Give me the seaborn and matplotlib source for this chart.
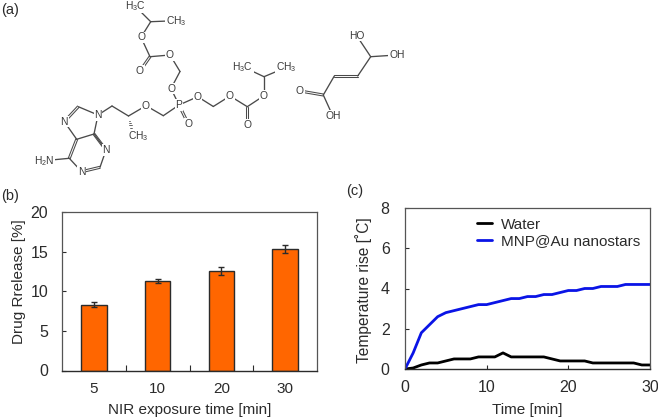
import matplotlib
matplotlib.use("Agg")
import matplotlib.pyplot as plt
import pandas as pd
import seaborn as sns

# ========================
# Data
# ========================
exposure = ['5', '10', '20', '30']
release = [8.3, 11.3, 12.5, 15.3]
release_err = [0.3, 0.3, 0.5, 0.5]

minutes = list(range(31))
water = [0, 0.05, 0.2, 0.3, 0.3, 0.4, 0.5, 0.5, 0.5, 0.6, 0.6, 0.6, 0.8, 0.6, 0.6, 0.6,
         0.6, 0.6, 0.5, 0.4, 0.4, 0.4, 0.4, 0.3, 0.3, 0.3, 0.3, 0.3, 0.3, 0.2, 0.2]
mnp = [0, 0.8, 1.8, 2.2, 2.6, 2.8, 2.9, 3.0, 3.1, 3.2, 3.2, 3.3, 3.4, 3.5, 3.5, 3.6,
       3.6, 3.7, 3.7, 3.8, 3.9, 3.9, 4.0, 4.0, 4.1, 4.1, 4.1, 4.2, 4.2, 4.2, 4.2]

# Molecule atoms, in picture pixels
atoms = {
    'iso1': (135, 6), 'ch1': (150.7, 21.7), 'me1': (176, 20.7), 'o1': (141, 37.3),
    'c1': (150, 56.7), 'o2': (170, 55), 'o3': (140, 71), 'ch2a': (180, 71.5), 'o4': (171, 88.5),
    'p': (179, 105), 'o5': (197.7, 96.7), 'o6': (188.3, 124), 'ch2b': (163.3, 115.7),
    'ch2c': (213.3, 106.5), 'o7': (230, 96), 'c2': (247.3, 106.7), 'o8': (247.3, 125),
    'o9': (264, 95.7), 'ch3': (264, 76.7), 'iso2': (242.7, 66.7), 'me2': (286, 67.5),
    'o10': (146, 105.7), 'ch': (128.5, 116), 'ch2d': (112, 106), 'n9': (98, 115),
    'c8': (78.3, 106.7), 'n7': (64.3, 121.7), 'c5': (76.7, 139.3), 'c4': (94, 134),
    'c6': (69.3, 158.3), 'n1': (81.7, 171.7), 'c2p': (100, 167.3), 'n3': (106, 150),
    'nh2': (44, 160.7), 'me3': (138, 136.5),
    'c3': (370.7, 56.7), 'oh1': (356.7, 35.7), 'oh2': (396.7, 55), 'c4f': (357.7, 76),
    'c5f': (334.3, 76), 'c6f': (323.3, 95), 'o11': (300, 91), 'oh3': (332.7, 115.7),
}
single_bonds = [
    ('iso1', 'ch1'), ('ch1', 'me1'), ('ch1', 'o1'), ('o1', 'c1'), ('c1', 'o2'), ('o2', 'ch2a'),
    ('ch2a', 'o4'), ('o4', 'p'), ('p', 'o5'), ('p', 'ch2b'), ('ch2b', 'o10'), ('o10', 'ch'),
    ('ch', 'ch2d'), ('ch2d', 'n9'), ('n9', 'c8'), ('n7', 'c5'), ('c5', 'c4'), ('c4', 'n9'),
    ('c6', 'nh2'), ('n1', 'c6'), ('c2p', 'n3'), ('n3', 'c4'), ('o5', 'ch2c'), ('ch2c', 'o7'),
    ('o7', 'c2'), ('c2', 'o9'), ('o9', 'ch3'), ('ch3', 'iso2'), ('ch3', 'me2'),
    ('c3', 'oh1'), ('c3', 'oh2'), ('c3', 'c4f'), ('c5f', 'c6f'), ('c6f', 'oh3'),
]
double_bonds = [
    ('c1', 'o3'), ('p', 'o6'), ('c2', 'o8'), ('c8', 'n7'), ('c5', 'c6'), ('n1', 'c2p'),
    ('c4', 'n3'), ('c4f', 'c5f'), ('c6f', 'o11'),
]
labels = {
    'iso1': 'H$_3$C', 'me1': 'CH$_3$', 'o1': 'O', 'o2': 'O', 'o3': 'O', 'o4': 'O', 'p': 'P',
    'o5': 'O', 'o6': 'O', 'o7': 'O', 'o8': 'O', 'o9': 'O', 'iso2': 'H$_3$C', 'me2': 'CH$_3$',
    'o10': 'O', 'n9': 'N', 'n7': 'N', 'n1': 'N', 'n3': 'N', 'nh2': 'H$_2$N', 'me3': 'CH$_3$',
    'oh1': 'HO', 'oh2': 'OH', 'o11': 'O', 'oh3': 'OH',
}

# ========================
# Figure setup
# ========================
sns.set_style("ticks")
plt.rcParams['font.family'] = ['Liberation Sans', 'DejaVu Sans']
plt.rcParams['mathtext.default'] = 'regular'
W, H = 658, 417
fig = plt.figure(figsize=(W / 100, H / 100), dpi=100)

DARK = '#2b2b2b'

# ========================
# (a) Molecule
# ========================
ax_mol = fig.add_axes([0, 0, 1, 1])
ax_mol.set_xlim(0, W)
ax_mol.set_ylim(H, 0)
ax_mol.axis('off')

for a, b in single_bonds:
    ax_mol.plot(*zip(atoms[a], atoms[b]), color='#4a4a4a', lw=0.95, zorder=1)

for a, b in double_bonds:
    (x0, y0), (x1, y1) = atoms[a], atoms[b]
    length = ((x1 - x0) ** 2 + (y1 - y0) ** 2) ** 0.5
    nx, ny = -(y1 - y0) / length * 1.0, (x1 - x0) / length * 1.0
    for s in (-1, 1):
        ax_mol.plot([x0 + s * nx, x1 + s * nx], [y0 + s * ny, y1 + s * ny],
                    color='#4a4a4a', lw=0.75, zorder=1)

# hashed wedge on the chiral carbon
(x0, y0), (x1, y1) = atoms['ch'], (131.5, 130)
for i in range(1, 7):
    t = i / 6
    cx, cy = x0 + (x1 - x0) * t, y0 + (y1 - y0) * t
    ax_mol.plot([cx - 1.6 * t, cx + 1.6 * t], [cy, cy], color='#4a4a4a', lw=0.6, zorder=1)

for key, txt in labels.items():
    ax_mol.text(*atoms[key], txt, fontsize=7.4, color='#3a3a3a', ha='center', va='center', zorder=2,
                bbox=dict(facecolor='white', edgecolor='none', pad=0.4))

ax_mol.text(1, 10, '(a)', fontsize=10.5, color=DARK, va='center')
ax_mol.text(1, 196, '(b)', fontsize=10.5, color=DARK, va='center')
ax_mol.text(346, 191, '(c)', fontsize=10.5, color=DARK, va='center')

# ========================
# (b) Drug release bars
# ========================
ax_b = fig.add_axes([62 / W, 1 - 370.5 / H, 255 / W, 158.5 / H])
df = pd.DataFrame({'time': exposure, 'release': release})
sns.barplot(data=df, x='time', y='release', color='#ff6600', saturation=1, width=0.4,
            edgecolor=DARK, linewidth=1.0, ax=ax_b)
ax_b.errorbar(range(len(exposure)), release, yerr=release_err, fmt='none', ecolor=DARK,
              elinewidth=1.0, capsize=2.2, capthick=1.0)
ax_b.set_xlim(-0.5, 3.5)
ax_b.set_ylim(0, 20)
ax_b.set_yticks([0, 5, 10, 15, 20])
ax_b.set_xticks([0.5, 1.5, 2.5], minor=True)
ax_b.tick_params(axis='x', which='major', length=0, labelsize=11, pad=8, colors=DARK)
ax_b.tick_params(axis='x', which='minor', direction='in', length=4, width=0.8, color=DARK)
ax_b.tick_params(axis='y', direction='in', length=3, width=0.8, labelsize=11.5, pad=10, colors=DARK)
ax_b.set_xlabel('NIR exposure time [min]', fontsize=11, color=DARK, labelpad=5)
ax_b.set_ylabel('Drug Rrelease [%]', fontsize=11, color=DARK)
ax_b.yaxis.set_label_coords(-0.143, 0.558)

# ========================
# (c) Temperature rise
# ========================
ax_c = fig.add_axes([405 / W, 1 - 369 / H, 245 / W, 161 / H])
sns.lineplot(x=minutes, y=water, color='black', lw=2.0, label='Water', ax=ax_c)
sns.lineplot(x=minutes, y=mnp, color='#0a14e6', lw=2.0, label='MNP@Au nanostars', ax=ax_c)
ax_c.set_xlim(0, 30)
ax_c.set_ylim(0, 8)
ax_c.set_xticks([0, 10, 20, 30])
ax_c.set_yticks([0, 2, 4, 6, 8])
ax_c.tick_params(axis='both', direction='in', length=3, width=0.8, labelsize=11.5, colors=DARK)
ax_c.tick_params(axis='x', pad=8)
ax_c.tick_params(axis='y', pad=11)
ax_c.set_xlabel('Time [min]', fontsize=11, color=DARK, labelpad=6)
ax_c.set_ylabel('Temperature rise [˚C]', fontsize=11.2, color=DARK)
ax_c.yaxis.set_label_coords(-0.133, 0.49)
ax_c.legend(loc='upper left', bbox_to_anchor=(0.294, 0.94), frameon=False, fontsize=11,
            handlelength=1.0, handletextpad=0.55, labelspacing=0.15, borderaxespad=0, borderpad=0,
            labelcolor=DARK)

for ax in (ax_b, ax_c):
    for side in ('top', 'right', 'left'):
        ax.spines[side].set_visible(True)
        ax.spines[side].set_linewidth(0.9)
        ax.spines[side].set_color('#555555')
    ax.spines['bottom'].set_linewidth(1.0)
    ax.spines['bottom'].set_color(DARK)

plt.savefig("out.png", dpi=100)
